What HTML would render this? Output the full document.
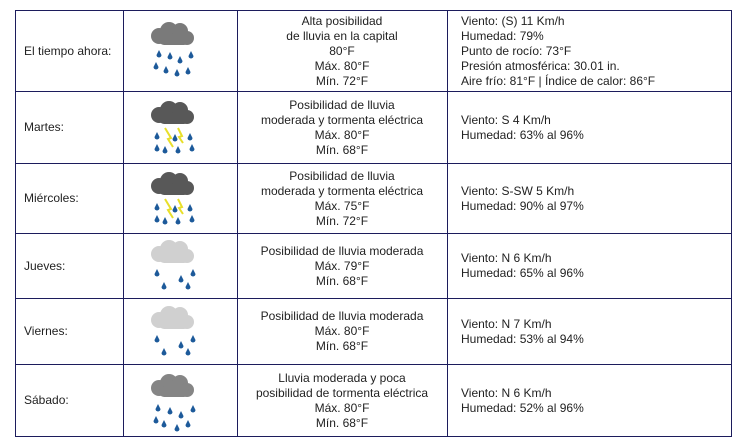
<!DOCTYPE html>
<html><head><meta charset="utf-8"><style>
body{margin:0;width:745px;height:445px;background:#fff;font-family:"Liberation Sans",sans-serif;font-size:12px;color:#222;position:relative;overflow:hidden}
.h{position:absolute;left:15px;width:717px;height:0;border-top:1.5px solid #1c1c5c}
.v{position:absolute;top:10px;height:427px;width:0;border-left:1.5px solid #1c1c5c}
.c{position:absolute;display:flex;align-items:center;line-height:15px}
.l{left:24px;width:95px}
.m{left:238px;width:208px;justify-content:center;text-align:center}
.r{left:461px;width:270px}
svg{position:absolute}
</style></head><body>
<div class="h" style="top:10px"></div><div class="h" style="top:91px"></div><div class="h" style="top:163px"></div><div class="h" style="top:233px"></div><div class="h" style="top:298px"></div><div class="h" style="top:364px"></div><div class="h" style="top:436px"></div>
<div class="v" style="left:15px"></div><div class="v" style="left:123px"></div><div class="v" style="left:237px"></div><div class="v" style="left:447px"></div><div class="v" style="left:731px"></div>

<svg width="0" height="0"><defs>
<g id="cl"><circle cx="10" cy="14" r="8"/><circle cx="20" cy="9" r="9"/><circle cx="31" cy="9" r="8"/><circle cx="38" cy="16" r="7"/><rect x="10" y="12" width="30" height="11" rx="5"/></g>
<g id="d"><path d="M0 -4 L2.5 1 A2.5 2.5 0 1 1 -2.5 1 Z" fill="#1d5a9a"/></g>
</defs></svg>

<!-- row1 icon -->
<svg style="left:149px;top:22px" width="50" height="55"><use href="#cl" fill="#7a7a7a"/>
<use href="#d" x="10" y="32"/><use href="#d" x="21" y="34"/><use href="#d" x="31" y="38"/><use href="#d" x="42" y="33"/><use href="#d" x="7" y="44"/><use href="#d" x="17" y="48"/><use href="#d" x="28" y="51"/><use href="#d" x="39" y="49"/></svg>
<svg style="left:149px;top:101px" width="50" height="55"><use href="#cl" fill="#585858"/>
<path d="M16 27 L22 37 L19 38 L24 46" stroke="#e8df2a" stroke-width="2" fill="none"/><path d="M29 27 L33 35 L30 36 L34 42" stroke="#e8df2a" stroke-width="2" fill="none"/>
<use href="#d" x="8" y="35"/><use href="#d" x="26" y="37"/><use href="#d" x="41" y="36"/><use href="#d" x="8" y="47"/><use href="#d" x="16" y="49"/><use href="#d" x="29" y="49"/><use href="#d" x="43" y="47"/></svg>
<svg style="left:149px;top:172px" width="50" height="55"><use href="#cl" fill="#585858"/>
<path d="M16 27 L22 37 L19 38 L24 46" stroke="#e8df2a" stroke-width="2" fill="none"/><path d="M29 27 L33 35 L30 36 L34 42" stroke="#e8df2a" stroke-width="2" fill="none"/>
<use href="#d" x="8" y="35"/><use href="#d" x="26" y="37"/><use href="#d" x="41" y="36"/><use href="#d" x="8" y="47"/><use href="#d" x="16" y="49"/><use href="#d" x="29" y="49"/><use href="#d" x="43" y="47"/></svg>
<svg style="left:149px;top:240px" width="50" height="55"><use href="#cl" fill="#d0d0d0"/>
<use href="#d" x="8" y="33"/><use href="#d" x="32" y="39"/><use href="#d" x="44" y="33"/><use href="#d" x="15" y="46"/><use href="#d" x="39" y="46"/></svg>
<svg style="left:149px;top:306px" width="50" height="55"><use href="#cl" fill="#d0d0d0"/>
<use href="#d" x="8" y="33"/><use href="#d" x="32" y="39"/><use href="#d" x="44" y="33"/><use href="#d" x="15" y="46"/><use href="#d" x="39" y="46"/></svg>
<svg style="left:149px;top:374px" width="50" height="60"><use href="#cl" fill="#858585"/>
<use href="#d" x="9" y="34"/><use href="#d" x="21" y="37"/><use href="#d" x="32" y="41"/><use href="#d" x="44" y="35"/><use href="#d" x="7" y="46"/><use href="#d" x="15" y="50"/><use href="#d" x="28" y="54"/><use href="#d" x="39" y="50"/></svg>

<div class="c l" style="top:11px;height:80px">El tiempo ahora:</div>
<div class="c l" style="top:92px;height:71px">Martes:</div>
<div class="c l" style="top:164px;height:69px">Miércoles:</div>
<div class="c l" style="top:234px;height:64px">Jueves:</div>
<div class="c l" style="top:299px;height:65px">Viernes:</div>
<div class="c l" style="top:365px;height:71px">Sábado:</div>

<div class="c m" style="top:11px;height:80px">Alta posibilidad<br>de lluvia en la capital<br>80°F<br>Máx. 80°F<br>Mín. 72°F</div>
<div class="c m" style="top:92px;height:71px">Posibilidad de lluvia<br>moderada y tormenta eléctrica<br>Máx. 80°F<br>Mín. 68°F</div>
<div class="c m" style="top:164px;height:69px">Posibilidad de lluvia<br>moderada y tormenta eléctrica<br>Máx. 75°F<br>Mín. 72°F</div>
<div class="c m" style="top:234px;height:64px">Posibilidad de lluvia moderada<br>Máx. 79°F<br>Mín. 68°F</div>
<div class="c m" style="top:299px;height:65px">Posibilidad de lluvia moderada<br>Máx. 80°F<br>Mín. 68°F</div>
<div class="c m" style="top:365px;height:71px">Lluvia moderada y poca<br>posibilidad de tormenta eléctrica<br>Máx. 80°F<br>Mín. 68°F</div>

<div class="c r" style="top:11px;height:80px">Viento: (S) 11 Km/h<br>Humedad: 79%<br>Punto de rocío: 73°F<br>Presión atmosférica: 30.01 in.<br>Aire frío: 81°F | Índice de calor: 86°F</div>
<div class="c r" style="top:92px;height:71px">Viento: S 4 Km/h<br>Humedad: 63% al 96%</div>
<div class="c r" style="top:164px;height:69px">Viento: S-SW 5 Km/h<br>Humedad: 90% al 97%</div>
<div class="c r" style="top:234px;height:64px">Viento: N 6 Km/h<br>Humedad: 65% al 96%</div>
<div class="c r" style="top:299px;height:65px">Viento: N 7 Km/h<br>Humedad: 53% al 94%</div>
<div class="c r" style="top:365px;height:71px">Viento: N 6 Km/h<br>Humedad: 52% al 96%</div>
</body></html>
